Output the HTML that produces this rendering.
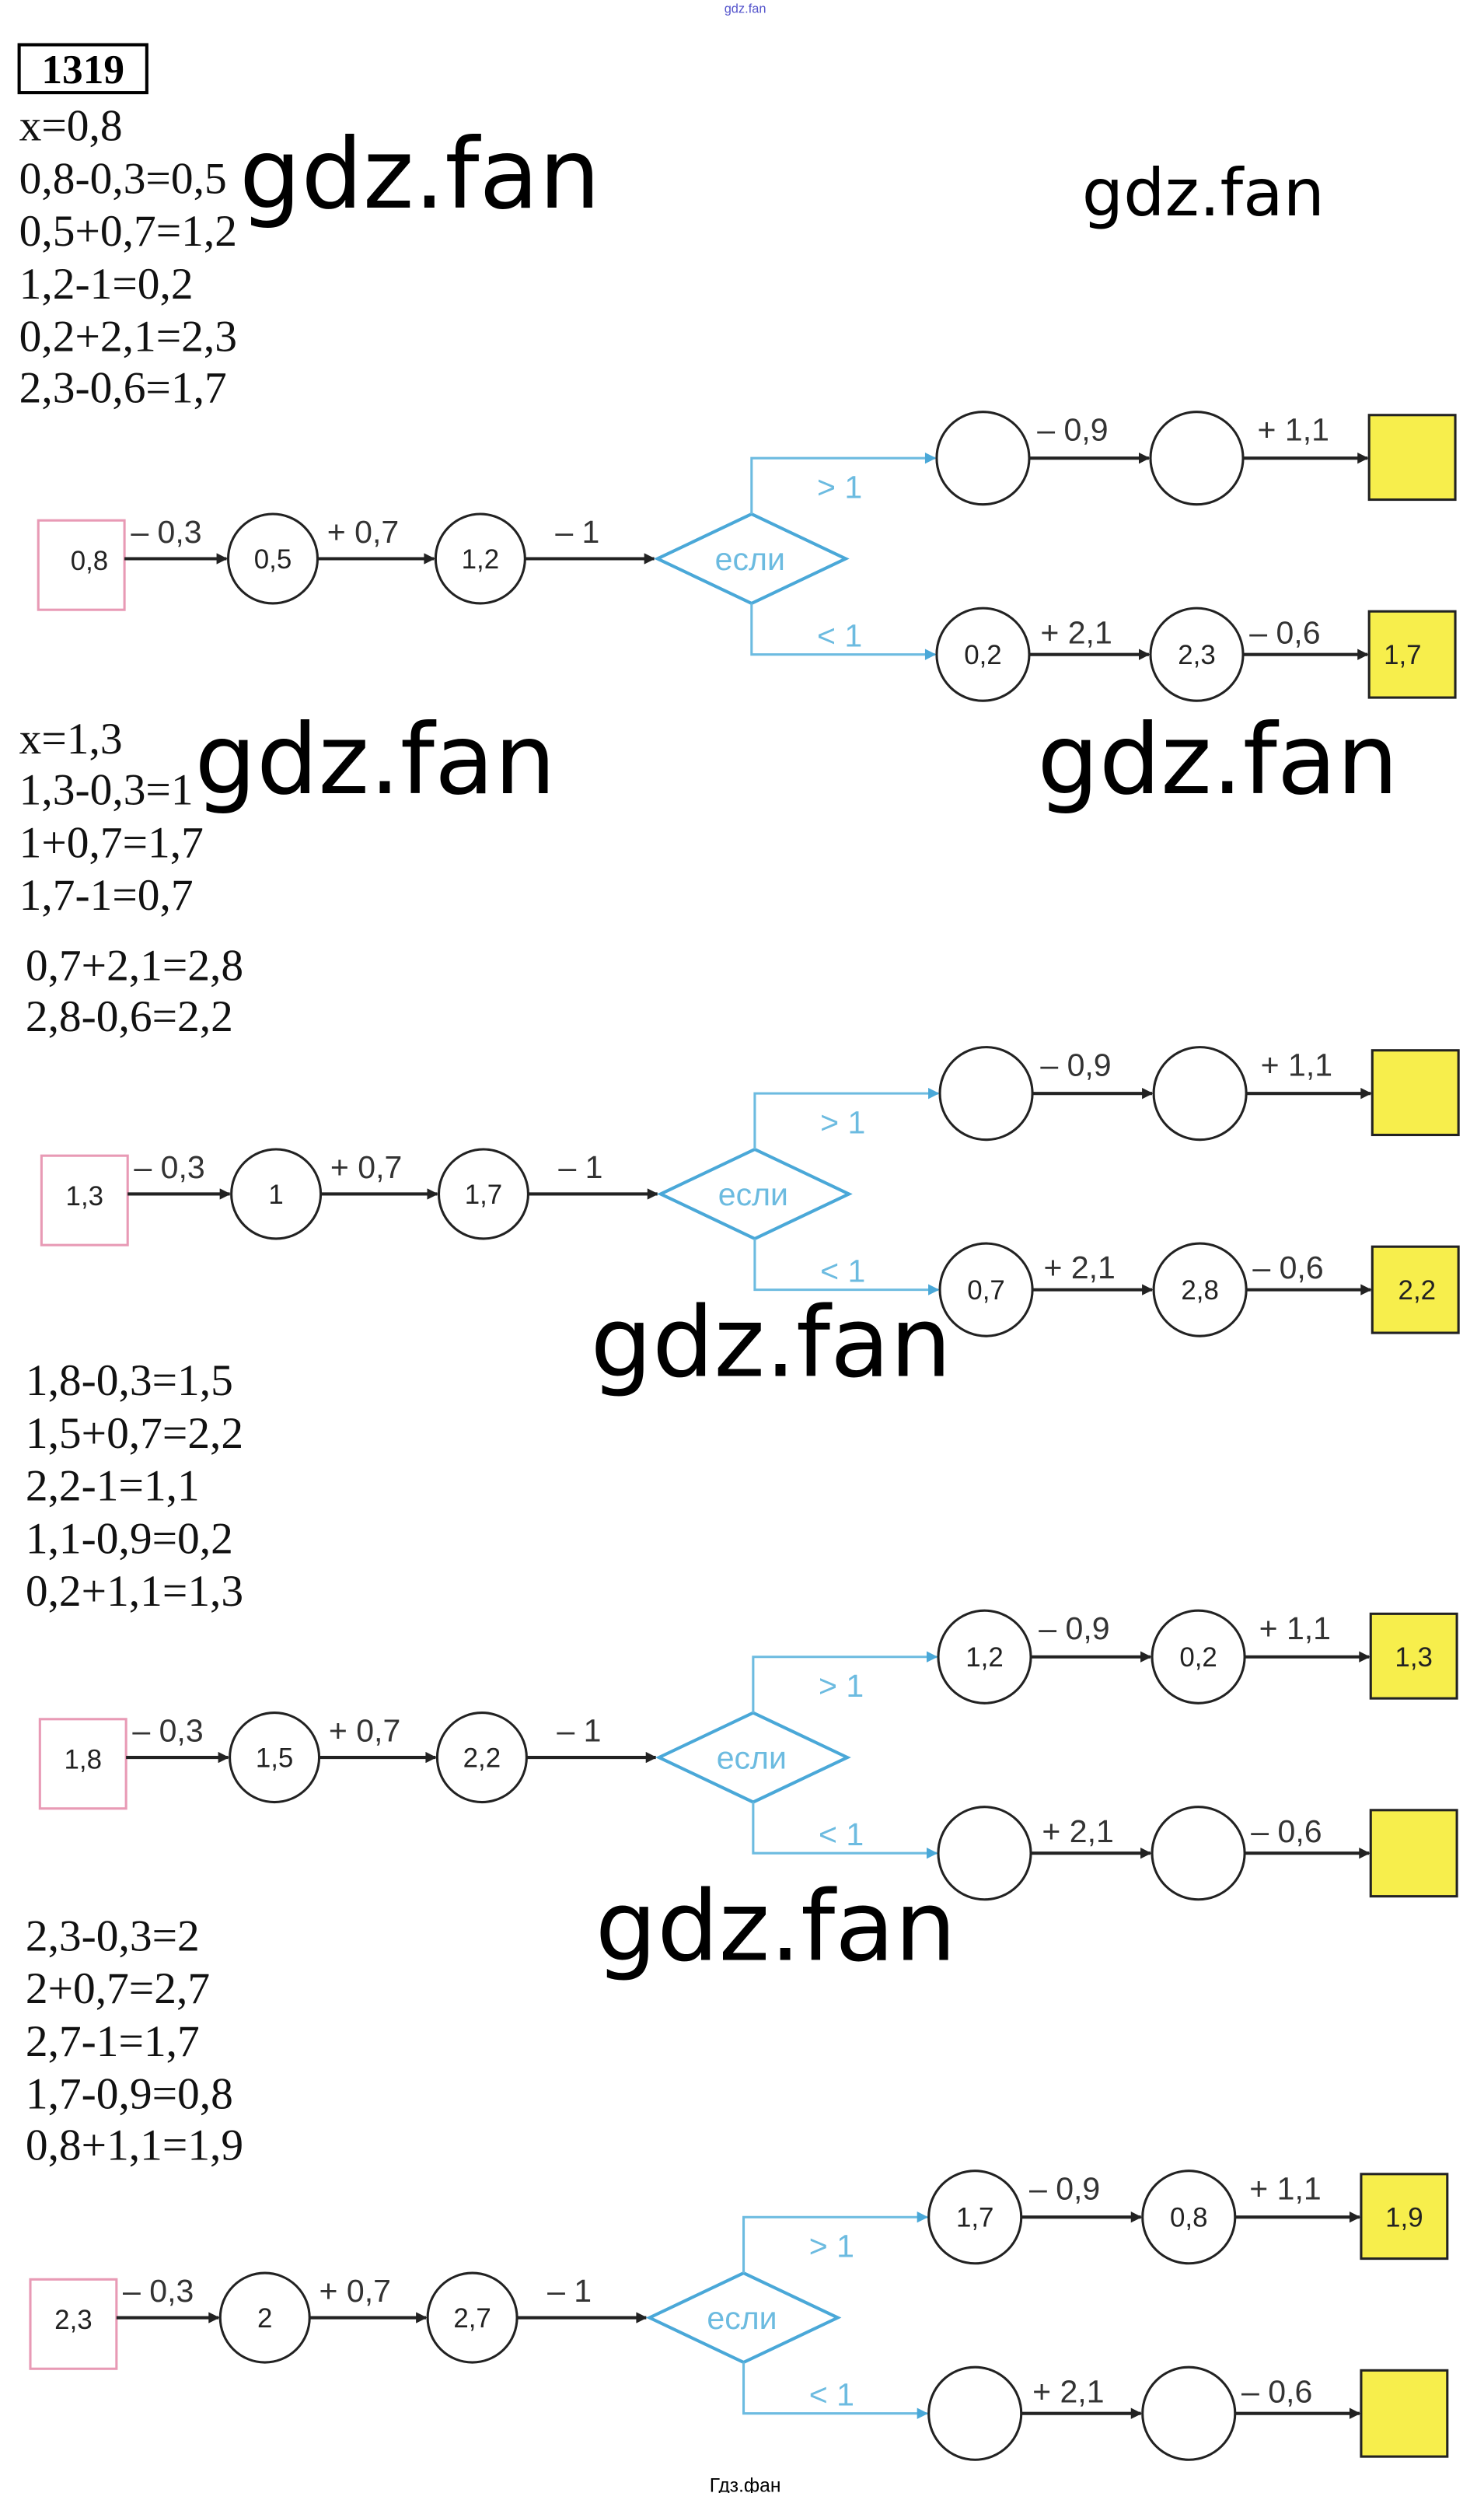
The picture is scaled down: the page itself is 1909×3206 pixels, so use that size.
<!DOCTYPE html>
<html><head><meta charset="utf-8"><style>
html,body{margin:0;padding:0;background:#fff;}
svg{display:block;}
.s{font-family:"Liberation Serif",serif;font-size:28px;fill:#111;}
.w{font-family:"DejaVu Sans",sans-serif;fill:#000;}
.n{font-family:"Liberation Sans",sans-serif;font-size:17px;fill:#222;text-anchor:middle;}
.l{font-family:"Liberation Sans",sans-serif;font-size:20px;fill:#333;}
.b{font-family:"Liberation Sans",sans-serif;font-size:20px;fill:#6cbbe0;}
</style></head><body>
<svg width="1909" height="3206" viewBox="0 0 930 1561.8" xmlns="http://www.w3.org/2000/svg">
<defs>
<marker id="a" viewBox="0 0 10 10" refX="9" refY="5" markerWidth="11" markerHeight="7" orient="auto" markerUnits="userSpaceOnUse"><path d="M0,0L10,5L0,10z" fill="#222"/></marker>
<marker id="ab" viewBox="0 0 10 10" refX="9" refY="5" markerWidth="11" markerHeight="7" orient="auto" markerUnits="userSpaceOnUse"><path d="M0,0L10,5L0,10z" fill="#4aa8d8"/></marker>
</defs>
<text x="467" y="8" font-family="Liberation Sans" font-size="8" fill="#5555cc" text-anchor="middle">gdz.fan</text>
<rect x="12" y="28" width="80" height="30" fill="none" stroke="#000" stroke-width="2"/>
<text x="52" y="52" text-anchor="middle" font-family="Liberation Serif" font-weight="bold" font-size="26">1319</text>

<text class="s" x="12" y="88">x=0,8</text>
<text class="s" x="12" y="121">0,8-0,3=0,5</text>
<text class="s" x="12" y="154">0,5+0,7=1,2</text>
<text class="s" x="12" y="187">1,2-1=0,2</text>
<text class="s" x="12" y="220">0,2+2,1=2,3</text>
<text class="s" x="12" y="252">2,3-0,6=1,7</text>
<text class="w" x="150" y="130" font-size="61">gdz.fan</text>
<text class="w" x="678" y="135" font-size="41">gdz.fan</text>

<text class="s" x="12" y="472">x=1,3</text>
<text class="s" x="12" y="504">1,3-0,3=1</text>
<text class="s" x="12" y="537">1+0,7=1,7</text>
<text class="s" x="12" y="570">1,7-1=0,7</text>
<text class="s" x="16" y="614">0,7+2,1=2,8</text>
<text class="s" x="16" y="646">2,8-0,6=2,2</text>
<text class="w" x="122" y="497" font-size="61">gdz.fan</text>
<text class="w" x="650" y="497" font-size="61">gdz.fan</text>

<text class="s" x="16" y="874">1,8-0,3=1,5</text>
<text class="s" x="16" y="907">1,5+0,7=2,2</text>
<text class="s" x="16" y="940">2,2-1=1,1</text>
<text class="s" x="16" y="973">1,1-0,9=0,2</text>
<text class="s" x="16" y="1006">0,2+1,1=1,3</text>
<text class="w" x="370" y="862" font-size="61">gdz.fan</text>

<text class="s" x="16" y="1222">2,3-0,3=2</text>
<text class="s" x="16" y="1255">2+0,7=2,7</text>
<text class="s" x="16" y="1288">2,7-1=1,7</text>
<text class="s" x="16" y="1321">1,7-0,9=0,8</text>
<text class="s" x="16" y="1353">0,8+1,1=1,9</text>
<text class="w" x="373" y="1228" font-size="61">gdz.fan</text>

<text x="467" y="1561" font-family="Liberation Sans" font-size="12" fill="#000" text-anchor="middle">Гдз.фан</text>

<!-- Diagram 1 -->
<g transform="translate(0,0)">
<rect x="24" y="326" width="54" height="56" fill="#fff" stroke="#e89ab5" stroke-width="1.5"/>
<text class="n" x="56" y="357">0,8</text>
<line x1="78" y1="350" x2="142" y2="350" stroke="#222" stroke-width="2" marker-end="url(#a)"/>
<circle cx="171" cy="350" r="28" fill="#fff" stroke="#222" stroke-width="1.5"/><text class="n" x="171" y="356">0,5</text>
<line x1="199" y1="350" x2="272" y2="350" stroke="#222" stroke-width="2" marker-end="url(#a)"/>
<circle cx="301" cy="350" r="28" fill="#fff" stroke="#222" stroke-width="1.5"/><text class="n" x="301" y="356">1,2</text>
<line x1="329" y1="350" x2="410" y2="350" stroke="#222" stroke-width="2" marker-end="url(#a)"/>
<polygon points="412,350 471,322 530,350 471,378" fill="#fff" stroke="#4aa8d8" stroke-width="2"/>
<text class="b" x="470" y="357" text-anchor="middle">если</text>
<polyline points="471,322 471,287 586,287" fill="none" stroke="#6cbbe0" stroke-width="1.5" marker-end="url(#ab)"/>
<polyline points="471,378 471,410 586,410" fill="none" stroke="#6cbbe0" stroke-width="1.5" marker-end="url(#ab)"/>
<circle cx="616" cy="287" r="29" fill="#fff" stroke="#222" stroke-width="1.5"/>
<line x1="645" y1="287" x2="720" y2="287" stroke="#222" stroke-width="2" marker-end="url(#a)"/>
<circle cx="750" cy="287" r="29" fill="#fff" stroke="#222" stroke-width="1.5"/>
<line x1="779" y1="287" x2="857" y2="287" stroke="#222" stroke-width="2" marker-end="url(#a)"/>
<rect x="858" y="260" width="54" height="53" fill="#f7ee4c" stroke="#222" stroke-width="1.5"/>
<circle cx="616" cy="410" r="29" fill="#fff" stroke="#222" stroke-width="1.5"/><text class="n" x="616" y="416">0,2</text>
<line x1="645" y1="410" x2="720" y2="410" stroke="#222" stroke-width="2" marker-end="url(#a)"/>
<circle cx="750" cy="410" r="29" fill="#fff" stroke="#222" stroke-width="1.5"/><text class="n" x="750" y="416">2,3</text>
<line x1="779" y1="410" x2="857" y2="410" stroke="#222" stroke-width="2" marker-end="url(#a)"/>
<rect x="858" y="383" width="54" height="54" fill="#f7ee4c" stroke="#222" stroke-width="1.5"/><text class="n" x="879" y="416">1,7</text>
<text class="l" x="82" y="340">– 0,3</text><text class="l" x="205" y="340">+ 0,7</text><text class="l" x="348" y="340">– 1</text>
<text class="b" x="512" y="312">&gt; 1</text><text class="b" x="512" y="405">&lt; 1</text>
<text class="l" x="650" y="276">– 0,9</text><text class="l" x="788" y="276">+ 1,1</text>
<text class="l" x="652" y="403">+ 2,1</text><text class="l" x="783" y="403">– 0,6</text>
</g>

<!-- Diagram 2 -->
<g transform="translate(2,398)">
<rect x="24" y="326" width="54" height="56" fill="#fff" stroke="#e89ab5" stroke-width="1.5"/>
<text class="n" x="51" y="357">1,3</text>
<line x1="78" y1="350" x2="142" y2="350" stroke="#222" stroke-width="2" marker-end="url(#a)"/>
<circle cx="171" cy="350" r="28" fill="#fff" stroke="#222" stroke-width="1.5"/><text class="n" x="171" y="356">1</text>
<line x1="199" y1="350" x2="272" y2="350" stroke="#222" stroke-width="2" marker-end="url(#a)"/>
<circle cx="301" cy="350" r="28" fill="#fff" stroke="#222" stroke-width="1.5"/><text class="n" x="301" y="356">1,7</text>
<line x1="329" y1="350" x2="410" y2="350" stroke="#222" stroke-width="2" marker-end="url(#a)"/>
<polygon points="412,350 471,322 530,350 471,378" fill="#fff" stroke="#4aa8d8" stroke-width="2"/>
<text class="b" x="470" y="357" text-anchor="middle">если</text>
<polyline points="471,322 471,287 586,287" fill="none" stroke="#6cbbe0" stroke-width="1.5" marker-end="url(#ab)"/>
<polyline points="471,378 471,410 586,410" fill="none" stroke="#6cbbe0" stroke-width="1.5" marker-end="url(#ab)"/>
<circle cx="616" cy="287" r="29" fill="#fff" stroke="#222" stroke-width="1.5"/>
<line x1="645" y1="287" x2="720" y2="287" stroke="#222" stroke-width="2" marker-end="url(#a)"/>
<circle cx="750" cy="287" r="29" fill="#fff" stroke="#222" stroke-width="1.5"/>
<line x1="779" y1="287" x2="857" y2="287" stroke="#222" stroke-width="2" marker-end="url(#a)"/>
<rect x="858" y="260" width="54" height="53" fill="#f7ee4c" stroke="#222" stroke-width="1.5"/>
<circle cx="616" cy="410" r="29" fill="#fff" stroke="#222" stroke-width="1.5"/><text class="n" x="616" y="416">0,7</text>
<line x1="645" y1="410" x2="720" y2="410" stroke="#222" stroke-width="2" marker-end="url(#a)"/>
<circle cx="750" cy="410" r="29" fill="#fff" stroke="#222" stroke-width="1.5"/><text class="n" x="750" y="416">2,8</text>
<line x1="779" y1="410" x2="857" y2="410" stroke="#222" stroke-width="2" marker-end="url(#a)"/>
<rect x="858" y="383" width="54" height="54" fill="#f7ee4c" stroke="#222" stroke-width="1.5"/><text class="n" x="886" y="416">2,2</text>
<text class="l" x="82" y="340">– 0,3</text><text class="l" x="205" y="340">+ 0,7</text><text class="l" x="348" y="340">– 1</text>
<text class="b" x="512" y="312">&gt; 1</text><text class="b" x="512" y="405">&lt; 1</text>
<text class="l" x="650" y="276">– 0,9</text><text class="l" x="788" y="276">+ 1,1</text>
<text class="l" x="652" y="403">+ 2,1</text><text class="l" x="783" y="403">– 0,6</text>
</g>

<!-- Diagram 3 -->
<g transform="translate(1,751)">
<rect x="24" y="326" width="54" height="56" fill="#fff" stroke="#e89ab5" stroke-width="1.5"/>
<text class="n" x="51" y="357">1,8</text>
<line x1="78" y1="350" x2="142" y2="350" stroke="#222" stroke-width="2" marker-end="url(#a)"/>
<circle cx="171" cy="350" r="28" fill="#fff" stroke="#222" stroke-width="1.5"/><text class="n" x="171" y="356">1,5</text>
<line x1="199" y1="350" x2="272" y2="350" stroke="#222" stroke-width="2" marker-end="url(#a)"/>
<circle cx="301" cy="350" r="28" fill="#fff" stroke="#222" stroke-width="1.5"/><text class="n" x="301" y="356">2,2</text>
<line x1="329" y1="350" x2="410" y2="350" stroke="#222" stroke-width="2" marker-end="url(#a)"/>
<polygon points="412,350 471,322 530,350 471,378" fill="#fff" stroke="#4aa8d8" stroke-width="2"/>
<text class="b" x="470" y="357" text-anchor="middle">если</text>
<polyline points="471,322 471,287 586,287" fill="none" stroke="#6cbbe0" stroke-width="1.5" marker-end="url(#ab)"/>
<polyline points="471,378 471,410 586,410" fill="none" stroke="#6cbbe0" stroke-width="1.5" marker-end="url(#ab)"/>
<circle cx="616" cy="287" r="29" fill="#fff" stroke="#222" stroke-width="1.5"/><text class="n" x="616" y="293">1,2</text>
<line x1="645" y1="287" x2="720" y2="287" stroke="#222" stroke-width="2" marker-end="url(#a)"/>
<circle cx="750" cy="287" r="29" fill="#fff" stroke="#222" stroke-width="1.5"/><text class="n" x="750" y="293">0,2</text>
<line x1="779" y1="287" x2="857" y2="287" stroke="#222" stroke-width="2" marker-end="url(#a)"/>
<rect x="858" y="260" width="54" height="53" fill="#f7ee4c" stroke="#222" stroke-width="1.5"/><text class="n" x="885" y="293">1,3</text>
<circle cx="616" cy="410" r="29" fill="#fff" stroke="#222" stroke-width="1.5"/>
<line x1="645" y1="410" x2="720" y2="410" stroke="#222" stroke-width="2" marker-end="url(#a)"/>
<circle cx="750" cy="410" r="29" fill="#fff" stroke="#222" stroke-width="1.5"/>
<line x1="779" y1="410" x2="857" y2="410" stroke="#222" stroke-width="2" marker-end="url(#a)"/>
<rect x="858" y="383" width="54" height="54" fill="#f7ee4c" stroke="#222" stroke-width="1.5"/>
<text class="l" x="82" y="340">– 0,3</text><text class="l" x="205" y="340">+ 0,7</text><text class="l" x="348" y="340">– 1</text>
<text class="b" x="512" y="312">&gt; 1</text><text class="b" x="512" y="405">&lt; 1</text>
<text class="l" x="650" y="276">– 0,9</text><text class="l" x="788" y="276">+ 1,1</text>
<text class="l" x="652" y="403">+ 2,1</text><text class="l" x="783" y="403">– 0,6</text>
</g>

<!-- Diagram 4 -->
<g transform="translate(-5,1102)">
<rect x="24" y="326" width="54" height="56" fill="#fff" stroke="#e89ab5" stroke-width="1.5"/>
<text class="n" x="51" y="357">2,3</text>
<line x1="78" y1="350" x2="142" y2="350" stroke="#222" stroke-width="2" marker-end="url(#a)"/>
<circle cx="171" cy="350" r="28" fill="#fff" stroke="#222" stroke-width="1.5"/><text class="n" x="171" y="356">2</text>
<line x1="199" y1="350" x2="272" y2="350" stroke="#222" stroke-width="2" marker-end="url(#a)"/>
<circle cx="301" cy="350" r="28" fill="#fff" stroke="#222" stroke-width="1.5"/><text class="n" x="301" y="356">2,7</text>
<line x1="329" y1="350" x2="410" y2="350" stroke="#222" stroke-width="2" marker-end="url(#a)"/>
<polygon points="412,350 471,322 530,350 471,378" fill="#fff" stroke="#4aa8d8" stroke-width="2"/>
<text class="b" x="470" y="357" text-anchor="middle">если</text>
<polyline points="471,322 471,287 586,287" fill="none" stroke="#6cbbe0" stroke-width="1.5" marker-end="url(#ab)"/>
<polyline points="471,378 471,410 586,410" fill="none" stroke="#6cbbe0" stroke-width="1.5" marker-end="url(#ab)"/>
<circle cx="616" cy="287" r="29" fill="#fff" stroke="#222" stroke-width="1.5"/><text class="n" x="616" y="293">1,7</text>
<line x1="645" y1="287" x2="720" y2="287" stroke="#222" stroke-width="2" marker-end="url(#a)"/>
<circle cx="750" cy="287" r="29" fill="#fff" stroke="#222" stroke-width="1.5"/><text class="n" x="750" y="293">0,8</text>
<line x1="779" y1="287" x2="857" y2="287" stroke="#222" stroke-width="2" marker-end="url(#a)"/>
<rect x="858" y="260" width="54" height="53" fill="#f7ee4c" stroke="#222" stroke-width="1.5"/><text class="n" x="885" y="293">1,9</text>
<circle cx="616" cy="410" r="29" fill="#fff" stroke="#222" stroke-width="1.5"/>
<line x1="645" y1="410" x2="720" y2="410" stroke="#222" stroke-width="2" marker-end="url(#a)"/>
<circle cx="750" cy="410" r="29" fill="#fff" stroke="#222" stroke-width="1.5"/>
<line x1="779" y1="410" x2="857" y2="410" stroke="#222" stroke-width="2" marker-end="url(#a)"/>
<rect x="858" y="383" width="54" height="54" fill="#f7ee4c" stroke="#222" stroke-width="1.5"/>
<text class="l" x="82" y="340">– 0,3</text><text class="l" x="205" y="340">+ 0,7</text><text class="l" x="348" y="340">– 1</text>
<text class="b" x="512" y="312">&gt; 1</text><text class="b" x="512" y="405">&lt; 1</text>
<text class="l" x="650" y="276">– 0,9</text><text class="l" x="788" y="276">+ 1,1</text>
<text class="l" x="652" y="403">+ 2,1</text><text class="l" x="783" y="403">– 0,6</text>
</g>
</svg>
</body></html>
